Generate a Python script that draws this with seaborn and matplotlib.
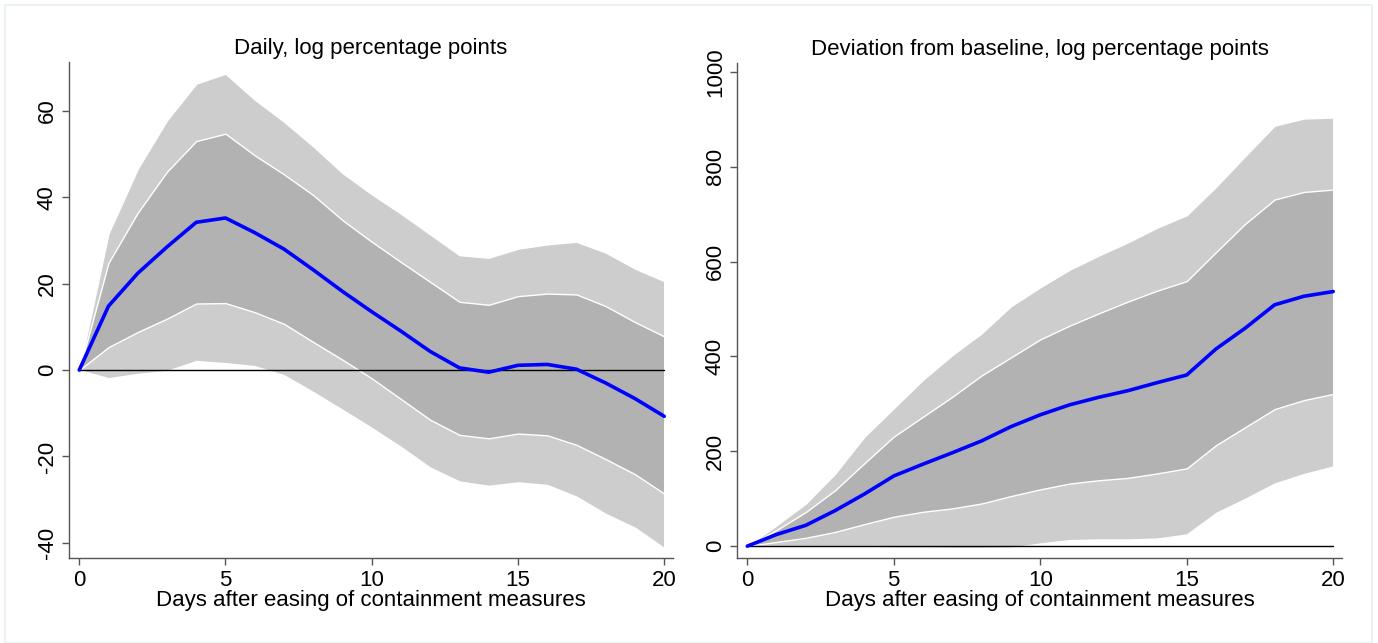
import numpy as np
import pandas as pd
import matplotlib
matplotlib.use("Agg")
import matplotlib.pyplot as plt
import seaborn as sns
from matplotlib.patches import Rectangle

# ---------------- data ----------------
days = list(range(21))

titles = ["Daily, log percentage points", "Deviation from baseline, log percentage points"]
xlabel = "Days after easing of containment measures"

daily_median = [0, 14.8, 22.4, 28.5, 34.2, 35.2, 31.8, 28.0, 23.2, 18.2, 13.5, 9.0, 4.3,
                0.5, -0.5, 1.1, 1.3, 0.2, -3.0, -6.6, -10.7]
daily_hi68 = [0, 24.8, 36.4, 45.9, 53.0, 54.7, 49.7, 45.3, 40.5, 34.7, 29.7, 25.0, 20.4,
              15.8, 15.1, 17.1, 17.7, 17.5, 14.8, 11.1, 7.8]
daily_lo68 = [0, 5.3, 8.8, 11.9, 15.4, 15.5, 13.4, 10.7, 6.5, 2.4, -1.9, -6.7, -11.5,
              -15.0, -15.8, -14.7, -15.1, -17.3, -20.6, -24.1, -28.6]
daily_hi90 = [0, 31.6, 46.6, 57.8, 66.3, 68.6, 62.6, 57.5, 51.8, 45.6, 40.7, 36.2, 31.4,
              26.6, 26.0, 28.1, 29.1, 29.7, 27.2, 23.5, 20.6]
daily_lo90 = [0, -1.9, -0.9, -0.2, 2.1, 1.6, 0.9, -1.2, -5.1, -9.2, -13.4, -17.8, -22.6,
              -25.8, -26.8, -26.0, -26.6, -29.3, -33.3, -36.5, -41.2]

cum_median = [0, 24.6, 44, 75, 110, 148, 173, 197, 222, 252, 277, 298, 314,
              328, 345, 361, 416, 460, 509, 527, 537]
cum_hi68 = [0, 34, 72, 118, 175, 231, 273, 315, 360, 398, 436, 465, 491,
            516, 539, 559, 620, 680, 731, 747, 752]
cum_lo68 = [0, 9, 17.6, 30, 46.5, 62, 72.5, 79.6, 90, 105.6, 119.7, 132, 139,
            144, 153.5, 164, 213, 251, 289, 308, 321]
cum_hi90 = [0, 44, 90, 153, 231, 291, 351, 403, 449, 506, 546, 583, 613,
            641, 672, 698, 758, 823, 887, 902, 904]
cum_lo90 = [0, 0, -1, -2, -2, -3, -3, -4, -4, -3, 5.6, 12.7, 14,
            14, 16, 24.6, 70, 100, 132, 152, 168]

yticks_daily = [-40, -20, 0, 20, 40, 60]
yticks_cum = [0, 200, 400, 600, 800, 1000]
xticks = [0, 5, 10, 15, 20]

# ---------------- style ----------------
sns.set_style("ticks")
plt.rcParams["font.family"] = ["Liberation Sans", "DejaVu Sans"]
plt.rcParams["text.color"] = "black"
plt.rcParams["xtick.labelcolor"] = "black"
plt.rcParams["ytick.labelcolor"] = "black"
plt.rcParams["axes.labelcolor"] = "black"

LIGHT = "#cdcdcd"
DARK = "#b2b2b2"
BLUE = "#0000ff"
SPINE = "#555555"

fig = plt.figure(figsize=(13.78, 6.43), dpi=100)
fig.patch.set_facecolor("white")
fig.patches.append(Rectangle((5 / 1378, 0.0), 1367 / 1378, 1 - 5 / 643, transform=fig.transFigure,
                             fill=False, edgecolor="#e8f0f4", linewidth=1.2, zorder=0))

ax1 = fig.add_axes([69 / 1378, 1 - 558 / 643, (673 - 69) / 1378, (558 - 62) / 643])
ax2 = fig.add_axes([737 / 1378, 1 - 558 / 643, (1342 - 737) / 1378, (558 - 63) / 643])

panels = [
    (ax1, daily_median, daily_lo68, daily_hi68, daily_lo90, daily_hi90, yticks_daily, (-43.5, 71.3)),
    (ax2, cum_median, cum_lo68, cum_hi68, cum_lo90, cum_hi90, yticks_cum, (-25, 1019)),
]

for i, (ax, med, lo68, hi68, lo90, hi90, yt, ylim) in enumerate(panels):
    df = pd.DataFrame({"day": days, "median": med})
    ax.fill_between(days, lo90, hi90, facecolor=LIGHT, edgecolor="white", linewidth=1.0, zorder=1)
    ax.fill_between(days, lo68, hi68, facecolor=DARK, edgecolor="white", linewidth=1.0, zorder=2)
    ax.plot([days[0], days[-1]], [0, 0], color="black", linewidth=1.0, zorder=3)
    sns.lineplot(data=df, x="day", y="median", ax=ax, color=BLUE, linewidth=2.6, zorder=4)

    ax.set_xlim(-0.35, 20.3)
    ax.set_ylim(*ylim)
    ax.set_xticks(xticks)
    ax.set_yticks(yt)
    ax.set_yticklabels([str(v) for v in yt], rotation=90, va="center")
    ax.set_xticklabels([str(v) for v in xticks])
    ax.tick_params(axis="both", labelsize=16, length=5, width=1, color=SPINE, pad=3)
    ax.tick_params(axis="x", pad=4)
    ax.set_title(titles[i], fontsize=16, pad=6, color="black")
    ax.set_xlabel(xlabel, fontsize=16, labelpad=-1, color="black")
    ax.set_ylabel("")
    sns.despine(ax=ax)
    for s in ["left", "bottom"]:
        ax.spines[s].set_color(SPINE)
        ax.spines[s].set_linewidth(1.0)

fig.savefig("out.png", dpi=100)
